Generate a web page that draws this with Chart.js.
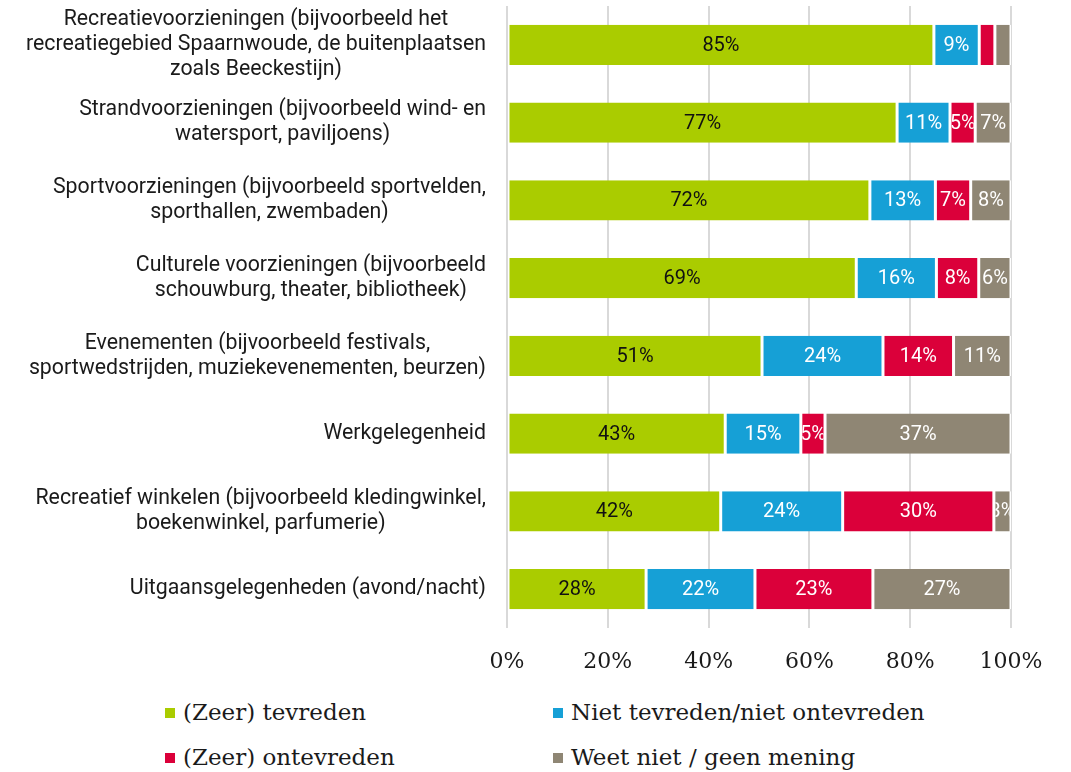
<!DOCTYPE html>
<html>
<head>
<meta charset="utf-8">
<script src="https://cdn.jsdelivr.net/npm/chart.js@4/dist/chart.umd.min.js"></script>
<style>
  body { margin: 0; background: #fff; }
  #wrap { position: relative; width: 1071px; height: 772px; }
  .leg { position: absolute; font-family: "DejaVu Serif", serif; font-size: 23px; color: #1a1a1a; white-space: nowrap; line-height: 30px; }
  .leg i { display: inline-block; width: 10px; height: 10px; margin-right: 8px; vertical-align: 2px; }
</style>
</head>
<body>
<div id="wrap">
  <canvas id="myChart" width="1071" height="690"></canvas>
  <div class="leg" style="left:165px; top:697px;"><i style="background:#aacc00"></i>(Zeer) tevreden</div>
  <div class="leg" style="left:553px; top:697px;"><i style="background:#16a0d6"></i>Niet tevreden/niet ontevreden</div>
  <div class="leg" style="left:165px; top:742px;"><i style="background:#db003a"></i>(Zeer) ontevreden</div>
  <div class="leg" style="left:553px; top:742px;"><i style="background:#8f8674"></i>Weet niet / geen mening</div>
</div>
<script>
// categorieen (labels op de y-as)
var categorieen = [
  ['Recreatievoorzieningen (bijvoorbeeld het', 'recreatiegebied Spaarnwoude, de buitenplaatsen', 'zoals Beeckestijn)'],
  ['Strandvoorzieningen (bijvoorbeeld wind- en', 'watersport, paviljoens)'],
  ['Sportvoorzieningen (bijvoorbeeld sportvelden,', 'sporthallen, zwembaden)'],
  ['Culturele voorzieningen (bijvoorbeeld', 'schouwburg, theater, bibliotheek)'],
  ['Evenementen (bijvoorbeeld festivals,', 'sportwedstrijden, muziekevenementen, beurzen)'],
  ['Werkgelegenheid'],
  ['Recreatief winkelen (bijvoorbeeld kledingwinkel,', 'boekenwinkel, parfumerie)'],
  ['Uitgaansgelegenheden (avond/nacht)']
];

var tevreden      = [84.7, 77.4, 72, 69.3, 50.6, 43.3, 42.4, 27.6];
var neutraal      = [9, 10.5, 13, 15.9, 24, 15, 24.2, 21.6];
var ontevreden    = [3.1, 5, 7, 8.4, 14, 4.8, 30, 23.4];
var weetNiet      = [3.2, 7.1, 8, 6.4, 11.4, 36.9, 3.4, 27.4];

// in de bron staan bij deze twee smalle balken geen percentages
var zonderLabel = ['0-2', '0-3'];

var xTicks = [0, 20, 40, 60, 80, 100];

var reeksNamen = ['(Zeer) tevreden', 'Niet tevreden/niet ontevreden', '(Zeer) ontevreden', 'Weet niet / geen mening'];
var kleuren = ['#aacc00', '#16a0d6', '#db003a', '#8f8674'];
var labelKleuren = ['#111111', '#ffffff', '#ffffff', '#ffffff'];

// percentages in de balken
var balkLabels = {
  id: 'balkLabels',
  afterDatasetsDraw: function (chart) {
    var ctx = chart.ctx;
    chart.data.datasets.forEach(function (ds, i) {
      var meta = chart.getDatasetMeta(i);
      meta.data.forEach(function (bar, j) {
        if (zonderLabel.indexOf(j + '-' + i) >= 0) return;
        var v = ds.data[j];
        var p = bar.getProps(['x', 'y', 'base', 'height'], true);
        var left = Math.min(p.x, p.base);
        var w = Math.abs(p.x - p.base);
        ctx.save();
        ctx.beginPath();
        ctx.rect(left + 1.5, p.y - p.height / 2, w - 3, p.height);
        ctx.clip();
        ctx.fillStyle = labelKleuren[i];
        ctx.font = '20px Roboto';
        ctx.textAlign = 'center';
        ctx.textBaseline = 'middle';
        ctx.fillText(Math.round(v) + '%', left + w / 2, p.y + 1);
        ctx.restore();
      });
    });
  }
};

// y-as labels: blok rechts uitgelijnd, regels gecentreerd
var yLabels = {
  id: 'yLabels',
  afterDraw: function (chart) {
    var ctx = chart.ctx;
    var scale = chart.scales.y;
    ctx.save();
    ctx.font = '21.3px Roboto';
    ctx.fillStyle = '#1a1a1a';
    ctx.textAlign = 'center';
    ctx.textBaseline = 'middle';
    categorieen.forEach(function (lines, i) {
      var y = scale.getPixelForTick(i);
      var widest = 0;
      lines.forEach(function (l) { widest = Math.max(widest, ctx.measureText(l).width); });
      var cx = chart.chartArea.left - 21 - widest / 2;
      lines.forEach(function (l, k) {
        ctx.fillText(l, cx, y + (k - (lines.length - 1) / 2) * 25);
      });
    });
    ctx.restore();
  }
};

var series = [tevreden, neutraal, ontevreden, weetNiet];

var ctx = document.getElementById('myChart').getContext('2d');
var chart = new Chart(ctx, {
  type: 'bar',
  data: {
    labels: categorieen,
    datasets: series.map(function (d, i) {
      return {
        label: reeksNamen[i],
        data: d,
        backgroundColor: kleuren[i],
        borderColor: '#ffffff',
        borderWidth: { left: 1.5, right: 1.5, top: 0, bottom: 0 },
        borderSkipped: false,
        barPercentage: 1,
        categoryPercentage: 0.515
      };
    })
  },
  options: {
    indexAxis: 'y',
    responsive: false,
    animation: false,
    devicePixelRatio: 1,
    layout: { padding: { top: 6, right: 60, left: 0, bottom: 0 } },
    plugins: {
      legend: { display: false },
      tooltip: { enabled: false }
    },
    scales: {
      x: {
        stacked: true,
        min: 0,
        max: 100,
        afterBuildTicks: function (scale) {
          scale.ticks = xTicks.map(function (v) { return { value: v }; });
        },
        afterFit: function (scale) { scale.height = 62; },
        grid: { color: '#d9d9d9', lineWidth: 2, drawTicks: false },
        border: { display: false },
        ticks: {
          padding: 21,
          color: '#1a1a1a',
          font: { family: 'DejaVu Serif', size: 22 },
          callback: function (v) { return v + '%'; }
        }
      },
      y: {
        stacked: true,
        afterFit: function (scale) { scale.width = 507; },
        grid: { display: false },
        border: { display: false },
        ticks: { display: false }
      }
    }
  },
  plugins: [balkLabels, yLabels]
});
</script>
</body>
</html>
